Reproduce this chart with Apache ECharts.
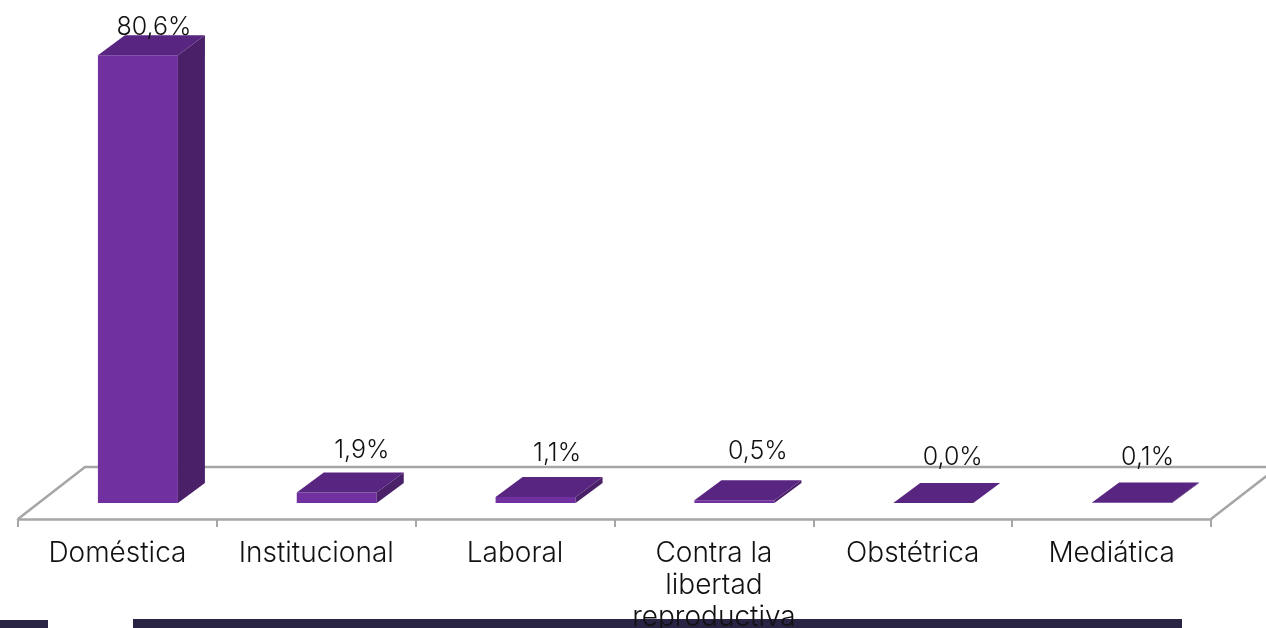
<!DOCTYPE html>
<html><head><meta charset="utf-8">
<style>html,body{margin:0;padding:0;background:#fff}#c{width:1266px;height:628px}</style>
<script src="https://cdn.jsdelivr.net/npm/echarts@6/dist/echarts.min.js"></script>
</head><body><div id="c"></div>
<script>
const categories = ['Doméstica','Institucional','Laboral','Contra la\nlibertad\nreproductiva','Obstétrica','Mediática'];
const values = [80.6,1.9,1.1,0.5,0.0,0.1];

// Layout of the pseudo-3D drawing (not data)
const FONT = 'Inter';
const DEPTH_X = 27, DEPTH_Y = 20, BAR_SHIFT = 20.5, BAR_W = 80;
const FLOOR_DROP = 16, FLOOR_DX = 67, FLOOR_DY = 52;
const labelNudge = [[2.5,-28],[11.5,-42],[8,-43],[10,-49],[6,-46],[2,-45]];

const chart = echarts.init(document.getElementById('c'));
chart.setOption({
  animation:false,
  backgroundColor:'#fff',
  grid:{left:18,width:1193,top:3,height:500,containLabel:false,outerBoundsMode:'none'},
  xAxis:{type:'category',data:categories,offset:FLOOR_DROP,
    axisLine:{show:true,onZero:false,lineStyle:{color:'#A6A6A6',width:2.5}},
    axisTick:{show:true,length:8,lineStyle:{color:'#A6A6A6',width:2}},
    axisLabel:{interval:0,fontFamily:FONT,fontSize:28,fontWeight:300,color:'#111',margin:19,lineHeight:32,hideOverlap:false}},
  yAxis:{type:'value',min:0,max:90,show:false,splitLine:{show:false}},
  graphic:[
    {type:'rect',z:0,shape:{x:0,y:620,width:48,height:8},style:{fill:'#2A2444'}},
    {type:'rect',z:0,shape:{x:133,y:619,width:1049,height:9},style:{fill:'#2A2444'}}
  ],
  series:[
    {type:'custom',coordinateSystem:'cartesian2d',silent:true,clip:false,z:1,data:[[0,0]],
     renderItem(params,api){
       const g=params.coordSys, fy=g.y+g.height+FLOOR_DROP, x0=g.x, x1=g.x+g.width;
       const style={stroke:'#A6A6A6',lineWidth:2.5,fill:null};
       return {type:'group',children:[
         {type:'polyline',shape:{points:[[x0,fy],[x0+FLOOR_DX,fy-FLOOR_DY],[x1+FLOOR_DX,fy-FLOOR_DY],[x1,fy]]},style}
       ]};
     }},
    {type:'custom',coordinateSystem:'cartesian2d',silent:true,clip:false,z:3,
     encode:{x:0,y:1},
     data:values.map((v,i)=>[i,v]),
     renderItem(params,api){
       const i=api.value(0), v=api.value(1);
       const base=api.coord([i,0]), top=api.coord([i,v]);
       const l=base[0]+BAR_SHIFT-BAR_W/2, r=l+BAR_W, by=base[1], ty=top[1];
       const dx=DEPTH_X, dy=DEPTH_Y;
       const txt=v.toFixed(1).replace('.',',')+'%';
       const n=labelNudge[params.dataIndex];
       const kids=[];
       if(by-ty>0.5){
         kids.push({type:'polygon',shape:{points:[[l,ty],[r,ty],[r,by],[l,by]]},style:{fill:'#7030A0'}});
         kids.push({type:'polygon',shape:{points:[[r,ty],[r+dx,ty-dy],[r+dx,by-dy],[r,by]]},style:{fill:'#4A2068'}});
       }
       kids.push({type:'polygon',shape:{points:[[l,ty],[r,ty],[r+dx,ty-dy],[l+dx,ty-dy]]},style:{fill:'#582580'}});
       kids.push({type:'text',x:(l+r)/2+dx/2+n[0],y:ty+n[1],
         style:{text:txt,fontFamily:FONT,fontSize:25,fontWeight:300,fill:'#111',align:'center',verticalAlign:'middle'}});
       return {type:'group',children:kids};
     }}
  ]
});
</script></body></html>
